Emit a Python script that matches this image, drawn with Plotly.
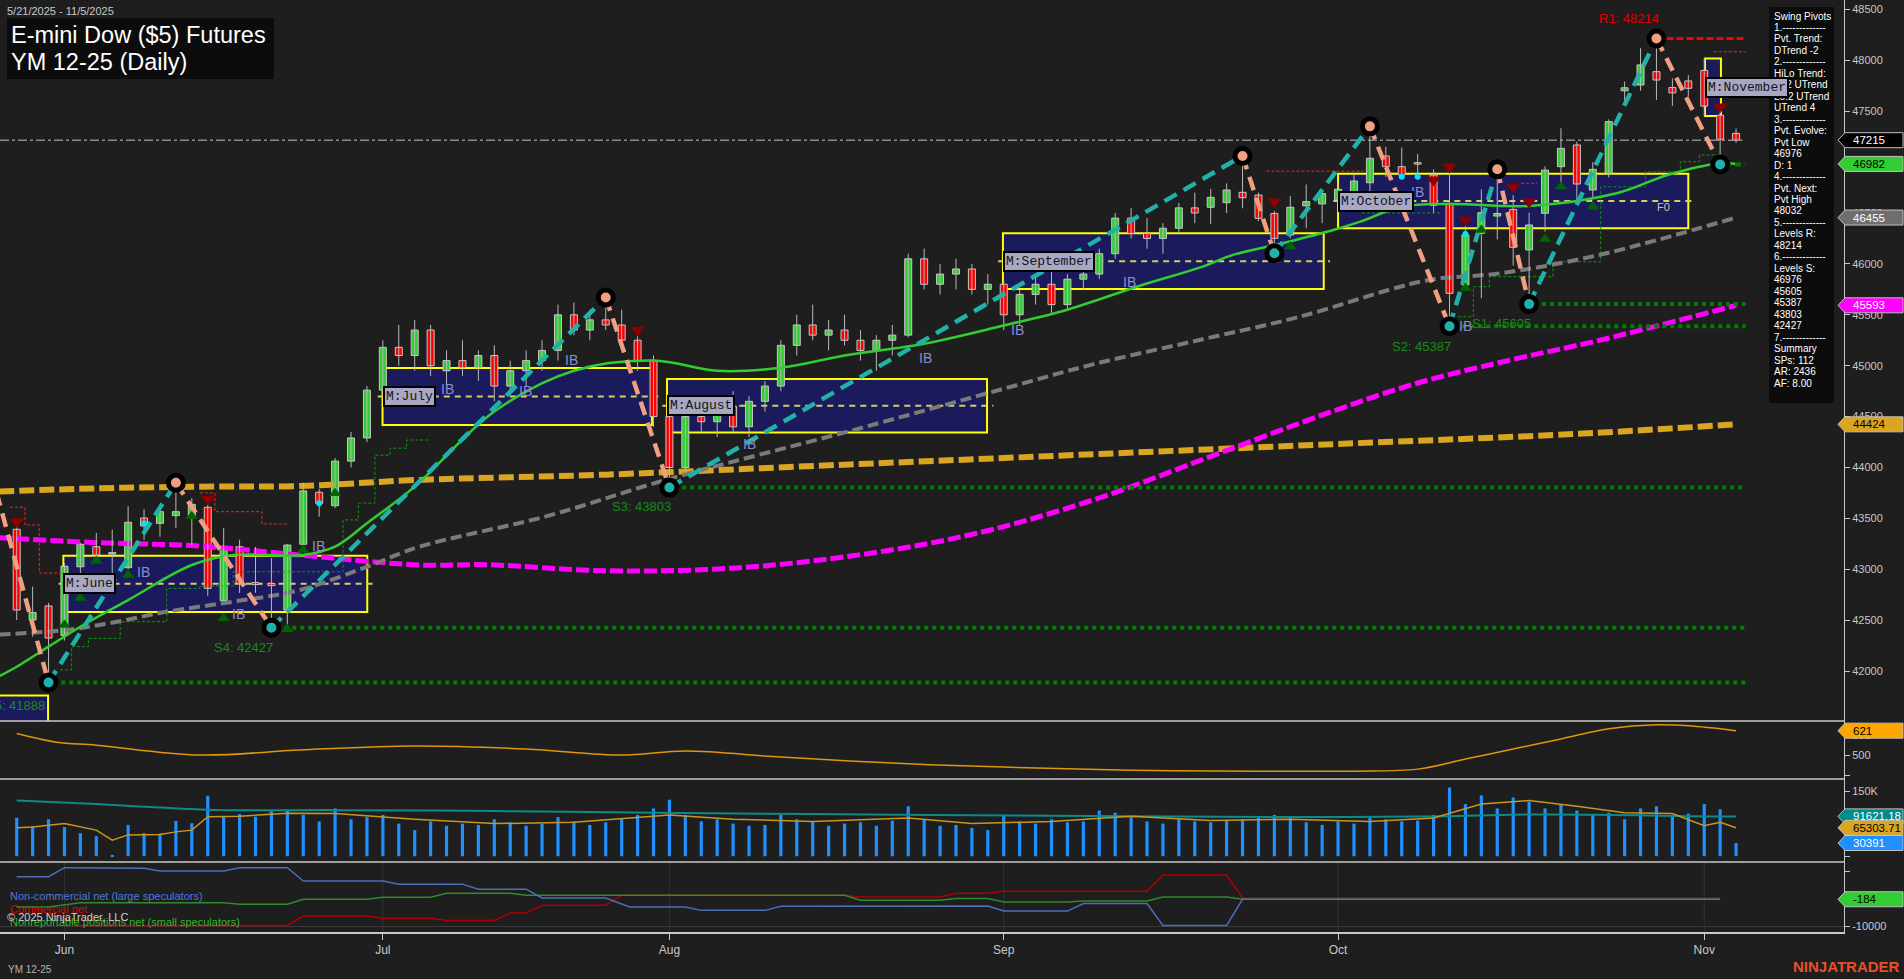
import plotly.graph_objects as go

# ---------------- DATA ----------------
bar_index = list(range(109))
opens = [43393, 42502, 42640, 42350, 43025, 43222, 43150, 43016, 43504, 43452,
         43527, 43515, 43609, 42692, 43222, 42870, 42860, 42600, 43246, 43757,
         43625, 44063, 44290, 44760, 45180, 45100, 45350, 44950, 45050, 44980,
         45100, 44800, 44950, 45050, 45150, 45500, 45350, 45450, 45400, 45250,
         45050, 44500, 44000, 44500, 44450, 44600, 44400, 44650, 44800, 45200,
         45400, 45300, 45350, 45250, 45150, 45250, 45300, 46050, 45800, 45900,
         45950, 45750, 45800, 45500, 45700, 45800, 45600, 45850, 45900, 46100,
         46450, 46300, 46250, 46350, 46550, 46556, 46601, 46703, 46676, 46495,
         46284, 46570, 46589, 46627, 46709, 46797, 47060, 46955, 46990, 46873,
         46594, 45793, 46301, 46470, 46535, 46137, 46497, 46955, 47168, 46726,
         46890, 47700, 47757, 47888, 47732, 47797, 47900, 47460, 47282]
highs = [43420, 42830, 42670, 43060, 43260, 43357, 43390, 43620, 43590, 43590,
         43850, 43700, 43640, 43405, 43290, 43220, 43110, 43250, 43850, 43790,
         44093, 44350, 44800, 45250, 45400, 45450, 45400, 45150, 45250, 45150,
         45200, 45050, 45150, 45250, 45600, 45620, 45550, 45670, 45550, 45350,
         45100, 44600, 44550, 44700, 44650, 44750, 44700, 44850, 45250, 45500,
         45600, 45450, 45500, 45350, 45300, 45400, 46100, 46150, 46000, 46050,
         46000, 45900, 45850, 45750, 45900, 45950, 45900, 46000, 46150, 46500,
         46550, 46450, 46400, 46600, 46700, 46736, 46790, 47060, 46700, 46520,
         46666, 46780, 46700, 46800, 46880, 47351, 47150, 47143, 47079, 46929,
         46920, 46383, 46733, 46929, 46676, 46503, 46958, 47332, 47200, 47000,
         47420, 47790, 48118, 48214, 47823, 47855, 48020, 47500, 47330]
lows = [42502, 42338, 41888, 42300, 42770, 43100, 42900, 43000, 43290, 43320,
        43405, 43240, 42740, 42690, 42767, 42770, 42427, 42440, 43200, 43517,
        43600, 44000, 44250, 44700, 45000, 44950, 44900, 44800, 44900, 44850,
        44650, 44700, 44800, 44950, 45050, 45300, 45250, 45350, 45150, 44950,
        44400, 43803, 43950, 44350, 44300, 44350, 44300, 44550, 44750, 45100,
        45250, 45150, 45200, 45050, 44950, 45100, 45280, 45750, 45700, 45750,
        45700, 45600, 45350, 45400, 45600, 45500, 45550, 45750, 45850, 46050,
        46250, 46150, 46100, 46300, 46400, 46392, 46500, 46546, 46420, 46104,
        46250, 46350, 46400, 46500, 46550, 46700, 46855, 46850, 46856, 46503,
        45387, 45750, 45662, 46240, 45983, 45605, 46317, 46791, 46628, 46650,
        46850, 47610, 47700, 47610, 47551, 47643, 47450, 46976, 47190]
closes = [42600, 42575, 42325, 43030, 43245, 43140, 43160, 43462, 43425, 43566,
          43566, 43638, 42813, 43206, 42862, 42850, 42840, 43238, 43770, 43648,
          44063, 44290, 44760, 45180, 45100, 45350, 45000, 45050, 44980, 45100,
          44800, 44950, 45050, 45150, 45500, 45350, 45450, 45400, 45250, 45050,
          44500, 44000, 44500, 44450, 44600, 44400, 44650, 44800, 45200, 45400,
          45300, 45350, 45250, 45150, 45250, 45300, 46050, 45800, 45900, 45950,
          45750, 45800, 45500, 45700, 45800, 45600, 45850, 45900, 46100, 46450,
          46300, 46250, 46350, 46550, 46500, 46654, 46726, 46650, 46448, 46251,
          46556, 46612, 46690, 46733, 46814, 47037, 46955, 46873, 46980, 46575,
          45711, 46284, 46503, 46495, 46163, 46382, 46921, 47135, 46785, 46929,
          47397, 47730, 47954, 47806, 47680, 47725, 47550, 47224, 47215]
volume = [88600, 69000, 85000, 67000, 53000, 46000, 3000, 72000, 53000, 52000,
          81000, 76000, 139000, 92000, 97000, 91000, 106000, 106000, 95000, 80000,
          110000, 85000, 90000, 95000, 75000, 60000, 80000, 70000, 75000, 72000,
          85000, 78000, 70000, 75000, 90000, 80000, 72000, 78000, 88000, 95000,
          110000, 130000, 95000, 80000, 85000, 75000, 70000, 72000, 95000, 85000,
          80000, 70000, 75000, 78000, 70000, 82000, 115000, 85000, 70000, 72000,
          65000, 60000, 95000, 80000, 75000, 85000, 78000, 80000, 105000, 100000,
          90000, 80000, 75000, 85000, 80000, 78000, 82000, 85000, 88000, 95000,
          90000, 78000, 72000, 80000, 75000, 88000, 85000, 80000, 82000, 95000,
          158000, 120000, 140000, 110000, 135000, 125000, 110000, 120000, 105000, 95000,
          100000, 85000, 110000, 115000, 95000, 98000, 120000, 108000, 30391]

month_labels = ["Jun", "Jul", "Aug", "Sep", "Oct", "Nov"]
month_first_bar = [3, 23, 41, 62, 83, 106]
price_ticks = [42000, 42500, 43000, 43500, 44000, 44500, 45000, 45500,
               46000, 46500, 47000, 47500, 48000, 48500]

# moving averages (bar position, value)
ma_fast_x = [-1.1, 0, 2, 4, 7, 11, 13.6, 18, 20, 22, 25, 30, 35, 40, 44, 48, 52, 57,
             62, 66, 70.6, 74.4, 76.4, 79.5, 82.7, 84.4, 87, 90, 95, 100.5, 103.7, 107, 108]
ma_fast_y = [41950, 42043, 42240, 42436, 42698, 43042, 43140, 43140, 43222, 43452,
             43812, 44550, 44950, 45050, 44950, 44980, 45100, 45216, 45395, 45550,
             45788, 45968, 46088, 46203, 46333, 46415, 46562, 46588, 46569, 46693,
             46873, 46988, 46982]
ma_mid_x = [-1.1, 3.1, 6.3, 9.4, 13.6, 17.8, 22, 25.3, 33.3, 40.8, 52.3, 62, 67.6,
            74.3, 80.6, 86.9, 89, 93.2, 99.4, 108]
ma_mid_y = [42360, 42404, 42485, 42583, 42682, 42797, 43025, 43222, 43522, 43880,
            44357, 44774, 45013, 45253, 45481, 45776, 45849, 45908, 46088, 46455]
ma_slow_x = [-1.1, 5.2, 11.5, 17.8, 25.3, 29.5, 37.1, 44.7, 52.3, 60, 67.6, 75.2,
             82.8, 88, 93.8, 99.5, 108]
ma_slow_y = [43310, 43261, 43229, 43140, 43042, 43045, 42985, 43009, 43128, 43343,
             43680, 44120, 44560, 44830, 45055, 45252, 45593]
ma_long_x = [-1.1, 5.2, 11.5, 17.8, 25.1, 37, 52.3, 67.6, 82.8, 98, 108]
ma_long_y = [43765, 43796, 43812, 43818, 43877, 43930, 44030, 44130, 44230, 44330, 44424]

# trailing stop steps (bar position, value); None separates segments
trail_up_x = [2.72, 3.45, 4.5, 6.5, 9.42, 11.5, 13.6, 20.5, 21.46, 22.5, 23.45, 24.5, 26, None,
              84.5, 89.4, None,
              90.55, 91.5, 92.5, 96.5, 99.5, 102.3, 104.5, 105.7, 107]
trail_up_y = [42013, 42240, 42322, 42485, 42813, 42836, 42976, 43485, 43650, 44121, 44190, 44270, 44270, None,
              46500, 46500, None,
              45481, 45776, 45874, 46021, 46757, 46905, 47004, 47070, 47070]
trail_dn_x = [-0.42, 0.52, 1.42, 2.82, None, 11.5, 12.45, 15.4, 16.96, None,
              78.5, 84.6, None, 94.5, 95.5, None, 106.6, 108.6]
trail_dn_y = [43610, 43435, 42963, 42963, None, 43750, 43566, 43446, 43446, None,
              46911, 46911, None, 46792, 46792, None, 48084, 48084]

# swing pivots
pivot_x = [-2, 2, 10, 16, 37, 41, 77, 79, 85, 90, 93, 95, 103, 107]
pivot_y = [44174, 41888, 43850, 42427, 45670, 43803, 47060, 46104, 47351, 45387,
           46929, 45605, 48214, 46976]
support_names = ["S5", "S4", "S3", "S2", "S1"]
support_vals = [41888, 42427, 43803, 45387, 45605]
support_from = [2, 16, 41, 90, 95]
resist_val, resist_from = 48214, 103
last_pivot_low, last_pivot_bar = 46976, 107
last_price = 47215

# monthly IB boxes: (label, x0, x1, low, high)
ib_names = ["M:June", "M:July", "M:August", "M:September", "M:October", "M:November"]
ib_x0 = [2.93, 22.98, 40.85, 61.95, 83.0, 106.05]
ib_x1 = [22.02, 39.9, 60.95, 82.1, 105.0, 107.05]
ib_low = [42580, 44417, 44345, 45753, 46349, 47452]
ib_high = [43134, 44977, 44870, 46301, 46886, 48017]

# second pane line (bar, value)
p2_x = [0, 2.5, 5, 11.5, 17.8, 25, 32, 38, 42, 48, 55, 62, 70, 78, 84, 88, 91, 94, 97,
        100, 103, 105, 108]
p2_y = [607, 564, 549, 500, 525, 545, 530, 500, 520, 490, 460, 440, 425, 420, 420,
        430, 480, 530, 580, 630, 650, 645, 621]
# volume averages
vol_fast_x = [0, 1, 3, 5, 6, 7, 9, 10, 11, 12, 14, 16, 17, 20, 25, 30, 35, 41, 45, 50,
              56, 60, 65, 70, 75, 80, 85, 89, 92, 95, 98, 101, 104, 106, 107, 108]
vol_fast_y = [65600, 67000, 75000, 60000, 37000, 49000, 50000, 56000, 60000, 91000,
              92000, 97000, 99000, 98000, 85000, 75000, 78000, 95000, 85000, 80000,
              88000, 75000, 80000, 92000, 82000, 85000, 80000, 88000, 120000, 128000,
              115000, 100000, 98000, 70000, 78000, 65304]
vol_slow_x = [0, 5, 9, 13, 20, 30, 40, 50, 60, 70, 80, 90, 95, 100, 105, 108]
vol_slow_y = [128000, 120000, 112000, 106000, 106000, 104000, 100000, 97000, 94000,
              92000, 90000, 92000, 96000, 95000, 92000, 91621]
# COT net positions (bar, value)
cot_large_x = [0, 2, 3, 8, 9, 13, 14, 17, 18, 23, 24, 28, 29, 32, 33, 37, 38.5, 42,
               43, 47, 48, 61, 62, 66, 67, 71, 72, 76, 77, 107]
cot_large_y = [7925, 7925, 11200, 11000, 10000, 10000, 11200, 11200, 6361, 6361,
               5270, 5270, 3450, 3450, 290, 290, -2984, -2984, -4184, -4184, -2730,
               -2620, -4440, -4440, -1750, -1750, -9640, -9640, -184, -184]
cot_comm_x = [0, 1, 4, 17, 18, 22, 23, 26, 27, 30, 31, 32, 33, 37, 38, 52, 53, 58, 59,
              61, 62, 71, 72, 76, 77, 107]
cot_comm_y = [-2984, -2984, -9640, -9640, -6257, -6257, -6984, -6984, -7820, -7820,
              -5165, -5165, -2366, -2366, 1270, 1270, 650, 650, 2000, 2000, 2730,
              2730, 8540, 8540, 180, 180]
cot_small_x = [0, 2, 4, 13, 14, 17, 18, 22, 23, 26, 27, 31, 32, 52, 53, 58, 59, 61,
               62, 66, 67, 71, 72, 76, 77, 107]
cot_small_y = [-2984, -2984, -1440, -1440, -2000, -2000, -184, -184, 543, 543, 2000,
               2000, 1270, 1270, -548, -548, 70, 70, -1166, -1166, -800, -800, 652,
               652, -184, -184]

# signal markers
tri_down_x = [0, 12, 39, 79, 89, 90, 91, 94, 95, 107]
tri_down_y = [43470, 43690, 45350, 46610, 46824, 46955, 46430, 46758, 46610, 47544]
tri_up_x = [3, 4, 5, 7, 11, 13, 16, 17, 18, 20, 80, 91, 92, 96, 97, 99]
tri_up_y = [42453, 42718, 43081, 42944, 43520, 42520, 42417, 42410, 43190, 43748,
            46170, 45763, 46333, 46244, 46759, 46560]
dot_x = [8, 19, 87, 88, 91]
dot_y = [43452, 43648, 46857, 46857, 46294]

info_lines = ["Swing Pivots", "1.-------------", "Pvt. Trend:", "DTrend -2",
              "2.-------------", "HiLo Trend:", "Hi:2 UTrend", "Lo:2 UTrend",
              "UTrend 4", "3.-------------", "Pvt. Evolve:", "Pvt Low", "46976",
              "D: 1", "4.-------------", "Pvt. Next:", "Pvt High", "48032",
              "5.-------------", "Levels R:", "48214", "6.-------------",
              "Levels S:", "46976", "45605", "45387", "43803", "42427",
              "7.-------------", "Summary", "SPs: 112", "AR: 2436", "AF: 8.00"]

# ---------------- LAYOUT GEOMETRY ----------------
PW, PH = 1844.0, 932.0
P1, P2, P3, P4 = (0, 721), (721, 779), (779, 862), (862, 932)
R1, R2, R3, R4 = [41510, 48592], [381, 669], [-13300, 177600], [-11982, 13243]
XR = [-1.049, 114.78]
BG = "#1e1e1e"
FONT = "Liberation Sans, Arial, sans-serif"


def dom(p):
    return [1 - p[1] / PH, 1 - p[0] / PH]


def xp(px):
    return px / PW


def yp(py):
    return 1 - py / PH


def vpx(v, rng, pane):
    return pane[0] + (rng[1] - v) / (rng[1] - rng[0]) * (pane[1] - pane[0])


fig = go.Figure()
shapes = []
ann = []
ib_ann = []

# IB boxes (below traces)
for name, x0, x1, lo, hi in zip(ib_names, ib_x0, ib_x1, ib_low, ib_high):
    shapes.append(dict(type="rect", xref="x", yref="y", x0=x0, x1=x1, y0=lo, y1=hi,
                       fillcolor="#1a1a5c", line=dict(color="#ffff00", width=2), layer="below"))
    mid = (lo + hi) / 2
    shapes.append(dict(type="line", xref="x", yref="y", x0=x0 - 0.3, x1=x1 + 0.4, y0=mid, y1=mid,
                       line=dict(color="#d4d060", width=2, dash="6px,5px"), layer="below"))
    ib_ann.append(dict(x=x0, y=mid, xref="x", yref="y", text=name, showarrow=False,
                       xanchor="left", yanchor="middle",
                       font=dict(family="Liberation Mono, Courier New, monospace", size=13, color="#151515"),
                       bgcolor="#a8a8c4", bordercolor="#000000", borderwidth=2, borderpad=1))
# May box remnant at bottom-left
shapes.append(dict(type="rect", xref="x", yref="y", x0=-3, x1=1.97, y0=41000, y1=41760,
                   fillcolor="#1a1a5c", line=dict(color="#ffff00", width=2), layer="below"))

# last price dash-dot line
fig.add_trace(go.Scatter(x=[XR[0], 108.4], y=[last_price, last_price], mode="lines",
                         line=dict(color="#8c8c8c", width=1.5, dash="dashdot"), hoverinfo="skip"))

# trailing stop steps
fig.add_trace(go.Scatter(x=trail_up_x, y=trail_up_y, mode="lines", line_shape="hv",
                         connectgaps=False, line=dict(color="#0a9a0a", width=1, dash="3px,2px")))
fig.add_trace(go.Scatter(x=trail_dn_x, y=trail_dn_y, mode="lines", line_shape="hv",
                         connectgaps=False, line=dict(color="#ff2020", width=1, dash="3px,2px")))

# moving averages
fig.add_trace(go.Scatter(x=ma_long_x, y=ma_long_y, mode="lines", line_shape="spline",
                         line=dict(color="#daa520", width=6, dash="15px,5px")))
fig.add_trace(go.Scatter(x=ma_slow_x, y=ma_slow_y, mode="lines", line_shape="spline",
                         line=dict(color="#ff00ff", width=5, dash="13px,4px")))
fig.add_trace(go.Scatter(x=ma_mid_x, y=ma_mid_y, mode="lines", line_shape="spline",
                         line=dict(color="#7a7a7a", width=4, dash="11px,5px")))

# candles: wicks
wx, wy = [], []
for i, h, l in zip(bar_index, highs, lows):
    wx += [i, i, None]
    wy += [l, h, None]
fig.add_trace(go.Scatter(x=wx, y=wy, mode="lines", line=dict(color="#b8b8b8", width=1),
                         hoverinfo="skip"))
bases = [min(o, c) for o, c in zip(opens, closes)]
sizes = [max(abs(c - o), 14) for o, c in zip(opens, closes)]
cols = ["#32cd32" if c >= o else "#ff0000" for o, c in zip(opens, closes)]
fig.add_trace(go.Bar(x=bar_index, y=sizes, base=bases, width=0.44,
                     marker=dict(color=cols, line=dict(color="#c8c8c8", width=1))))

fig.add_trace(go.Scatter(x=ma_fast_x, y=ma_fast_y, mode="lines", line_shape="spline",
                         line=dict(color="#32cd32", width=2.5)))

# support / resistance dotted lines
for v, b in zip(support_vals, support_from):
    fig.add_trace(go.Scatter(x=[b + 0.3, 108.6], y=[v, v], mode="lines",
                             line=dict(color="#008000", width=4, dash="4px,4px")))
fig.add_trace(go.Scatter(x=[last_pivot_bar + 0.3, 108.6], y=[last_pivot_low, last_pivot_low],
                         mode="lines", line=dict(color="#008000", width=4, dash="6px,4px")))
fig.add_trace(go.Scatter(x=[resist_from, 108.6], y=[resist_val, resist_val], mode="lines",
                         line=dict(color="#ff0000", width=3, dash="7px,3px")))

# zigzag swings
dn_x, dn_y, up_x, up_y = [], [], [], []
for k in range(len(pivot_x) - 1):
    seg_x = [pivot_x[k], pivot_x[k + 1], None]
    seg_y = [pivot_y[k], pivot_y[k + 1], None]
    if pivot_y[k + 1] < pivot_y[k]:
        dn_x += seg_x; dn_y += seg_y
    else:
        up_x += seg_x; up_y += seg_y
fig.add_trace(go.Scatter(x=dn_x, y=dn_y, mode="lines",
                         line=dict(color="#f0a080", width=4.5, dash="14px,8px")))
fig.add_trace(go.Scatter(x=up_x, y=up_y, mode="lines",
                         line=dict(color="#20b2aa", width=4.5, dash="14px,8px")))

# markers
fig.add_trace(go.Scatter(x=tri_down_x, y=tri_down_y, mode="markers",
                         marker=dict(symbol="triangle-down", size=13, color="#8b0000")))
fig.add_trace(go.Scatter(x=tri_up_x, y=tri_up_y, mode="markers",
                         marker=dict(symbol="triangle-up", size=11, color="#006400")))
fig.add_trace(go.Scatter(x=dot_x, y=dot_y, mode="markers",
                         marker=dict(size=6, color="#00e5ff")))
hi_x = [x for k, x in enumerate(pivot_x) if k > 0 and pivot_y[k] > pivot_y[k - 1]]
hi_y = [y for k, y in enumerate(pivot_y) if k > 0 and y > pivot_y[k - 1]]
lo_x = [x for k, x in enumerate(pivot_x) if k > 0 and pivot_y[k] < pivot_y[k - 1]]
lo_y = [y for k, y in enumerate(pivot_y) if k > 0 and y < pivot_y[k - 1]]
fig.add_trace(go.Scatter(x=hi_x, y=hi_y, mode="markers",
                         marker=dict(size=15, color="#f0a080", line=dict(color="#000000", width=5))))
fig.add_trace(go.Scatter(x=lo_x, y=lo_y, mode="markers",
                         marker=dict(size=15, color="#20b2aa", line=dict(color="#000000", width=5))))

# pane 2
fig.add_trace(go.Scatter(x=p2_x, y=p2_y, yaxis="y2", mode="lines", line_shape="spline",
                         line=dict(color="#e0960a", width=1.5)))
# pane 3 volume
fig.add_trace(go.Bar(x=bar_index, y=volume, yaxis="y3", width=0.2,
                     marker=dict(color="#1e90ff", line=dict(width=0))))
fig.add_trace(go.Scatter(x=vol_slow_x, y=vol_slow_y, yaxis="y3", mode="lines", line_shape="spline",
                         line=dict(color="#0d8a8a", width=2)))
fig.add_trace(go.Scatter(x=vol_fast_x, y=vol_fast_y, yaxis="y3", mode="lines",
                         line=dict(color="#c8961e", width=1.5)))
# pane 4 COT
fig.add_trace(go.Scatter(x=cot_comm_x, y=cot_comm_y, yaxis="y4", mode="lines",
                         line=dict(color="#b00000", width=1.5)))
fig.add_trace(go.Scatter(x=cot_small_x, y=cot_small_y, yaxis="y4", mode="lines",
                         line=dict(color="#2e8b2e", width=1.5)))
fig.add_trace(go.Scatter(x=cot_large_x, y=cot_large_y, yaxis="y4", mode="lines",
                         line=dict(color="#4a6fb8", width=1.5)))

# pane separators and grid
for py in (P1[1], P2[1], P3[1]):
    shapes.append(dict(type="line", xref="paper", yref="paper", x0=0, x1=1, y0=yp(py), y1=yp(py),
                       line=dict(color="#c8c8c8", width=1.5)))
for mb in month_first_bar:
    shapes.append(dict(type="line", xref="x", yref="y4", x0=mb, x1=mb, y0=R4[0], y1=R4[1],
                       line=dict(color="#333333", width=1), layer="below"))
shapes.append(dict(type="line", xref="paper", yref="y4", x0=0, x1=1, y0=-10000, y1=-10000,
                   line=dict(color="#3a3a3a", width=1), layer="below"))

# value flags on right axis
flags = [(last_price, R1, P1, "#000000", "#ffffff", "47215"),
         (46982, R1, P1, "#32cd32", "#000000", "46982"),
         (46455, R1, P1, "#6e6e6e", "#ffffff", "46455"),
         (45593, R1, P1, "#ff00ff", "#ffffff", "45593"),
         (44424, R1, P1, "#daa520", "#000000", "44424"),
         (621, R2, P2, "#ffa500", "#000000", "621"),
         (91621.18, R3, P3, "#008b8b", "#ffffff", "91621.18"),
         (65303.71, R3, P3, "#daa520", "#000000", "65303.71"),
         (30391, R3, P3, "#1e90ff", "#ffffff", "30391"),
         (-184, R4, P4, "#32cd32", "#000000", "-184")]
for v, rng, pane, bgc, fgc, txt in flags:
    cy = vpx(v, rng, pane)
    shapes.append(dict(type="path", xref="paper", yref="paper",
                       path=f"M {xp(1838)},{yp(cy)} L {xp(1845)},{yp(cy - 7.5)} L {xp(1903)},{yp(cy - 7.5)} "
                            f"L {xp(1903)},{yp(cy + 7.5)} L {xp(1845)},{yp(cy + 7.5)} Z",
                       fillcolor=bgc, line=dict(color="#c0c0c0", width=1)))
    ann.append(dict(x=xp(1851), y=yp(cy), xref="paper", yref="paper", text=txt, showarrow=False,
                    xanchor="left", yanchor="middle", font=dict(family=FONT, size=11.5, color=fgc)))

# title block
shapes.append(dict(type="rect", xref="paper", yref="paper", x0=xp(7), x1=xp(274), y0=yp(79), y1=yp(18),
                   fillcolor="#0c0c0c", line=dict(width=0)))
ann.append(dict(x=xp(5), y=yp(11), xref="paper", yref="paper", text="5/21/2025 - 11/5/2025",
                showarrow=False, xanchor="left", yanchor="middle",
                font=dict(family=FONT, size=11, color="#c8c8c8")))
ann.append(dict(x=xp(9), y=yp(35), xref="paper", yref="paper", text="E-mini Dow ($5) Futures",
                showarrow=False, xanchor="left", yanchor="middle",
                font=dict(family=FONT, size=23.5, color="#ffffff")))
ann.append(dict(x=xp(9), y=yp(62), xref="paper", yref="paper", text="YM 12-25 (Daily)",
                showarrow=False, xanchor="left", yanchor="middle",
                font=dict(family=FONT, size=23.5, color="#ffffff")))

# info panel
shapes.append(dict(type="rect", xref="paper", yref="paper", x0=xp(1769), x1=xp(1834), y0=yp(403), y1=yp(7),
                   fillcolor="#0c0c0c", line=dict(width=0)))
for k, line in enumerate(info_lines):
    ann.append(dict(x=xp(1772), y=yp(16 + k * 11.47), xref="paper", yref="paper", text=line,
                    showarrow=False, xanchor="left", yanchor="middle",
                    font=dict(family=FONT, size=10, color="#ffffff")))

# level labels
lab_pos = [("S5: 41888", 47, 705, "right"), ("S4: 42427", 212, 647, "left"),
           ("S3: 43803", 610, 506, "left"), ("S2: 45387", 1390, 346, "left"),
           ("S1: 45605", 1470, 324, "left")]
for txt, px_, py_, anc in lab_pos:
    ann.append(dict(x=xp(px_), y=yp(py_), xref="paper", yref="paper", text=txt, showarrow=False,
                    xanchor=anc, yanchor="middle", font=dict(family=FONT, size=13, color="#1a8a1a")))
ann.append(dict(x=xp(1597), y=yp(18), xref="paper", yref="paper", text="R1: 48214", showarrow=False,
                xanchor="left", yanchor="middle", font=dict(family=FONT, size=13, color="#e00000")))
ann.append(dict(x=xp(1655), y=yp(207), xref="paper", yref="paper", text="F0", showarrow=False,
                xanchor="left", yanchor="middle", font=dict(family=FONT, size=11, color="#c8c8a0")))
for px_, py_ in [(143, 572), (238, 614), (318, 546), (447, 389), (525, 391), (571, 360),
                 (749, 444), (925, 358), (1018, 330), (1129, 282), (1417, 192), (1465, 326)]:
    ann.append(dict(x=xp(px_), y=yp(py_), xref="paper", yref="paper", text="IB", showarrow=False,
                    xanchor="center", yanchor="middle", font=dict(family=FONT, size=14, color="#8c8cd0")))

# COT legend & copyright
ann += [
    dict(x=xp(8), y=yp(896), xref="paper", yref="paper", text="Non-commercial net (large speculators)",
         showarrow=False, xanchor="left", yanchor="middle", font=dict(family=FONT, size=11, color="#5078dc")),
    dict(x=xp(8), y=yp(909), xref="paper", yref="paper", text="Commercial net",
         showarrow=False, xanchor="left", yanchor="middle", font=dict(family=FONT, size=11, color="#e00000")),
    dict(x=xp(8), y=yp(922), xref="paper", yref="paper", text="Nonreportable positions net (small speculators)",
         showarrow=False, xanchor="left", yanchor="middle", font=dict(family=FONT, size=11, color="#2eb82e")),
    dict(x=xp(5), y=yp(917), xref="paper", yref="paper", text="© 2025 NinjaTrader, LLC",
         showarrow=False, xanchor="left", yanchor="middle", font=dict(family=FONT, size=11, color="#d0d0d0")),
    dict(x=xp(6), y=yp(969), xref="paper", yref="paper", text="YM 12-25",
         showarrow=False, xanchor="left", yanchor="middle", font=dict(family=FONT, size=10, color="#b4b4b4")),
    dict(x=xp(1902), y=yp(966), xref="paper", yref="paper", text="<b>NINJATRADER</b>",
         showarrow=False, xanchor="right", yanchor="middle", font=dict(family=FONT, size=15, color="#e8502a")),
]
# month IB labels drawn last so they sit on top of the info panel text
ann += ib_ann

axis_common = dict(side="right", showgrid=False, zeroline=False, showline=True, linecolor="#c8c8c8",
                   linewidth=1, ticks="outside", ticklen=5, tickcolor="#c8c8c8",
                   tickfont=dict(family=FONT, size=11, color="#c8c8c8"), anchor="x", fixedrange=True)

fig.update_layout(
    width=1904, height=979,
    margin=dict(l=0, r=60, t=0, b=47),
    paper_bgcolor=BG, plot_bgcolor=BG,
    showlegend=False, barmode="overlay", hovermode=False,
    xaxis=dict(range=XR, domain=[0, 1], anchor="y4", showgrid=False, zeroline=False,
               showline=True, linecolor="#c8c8c8", linewidth=1.5, ticks="outside", ticklen=6,
               tickcolor="#c8c8c8", tickvals=month_first_bar, ticktext=month_labels,
               tickfont=dict(family=FONT, size=12, color="#c8c8c8")),
    yaxis=dict(domain=dom(P1), range=R1, tickvals=price_ticks,
               ticktext=[str(t) for t in price_ticks], **axis_common),
    yaxis2=dict(domain=dom(P2), range=R2, tickvals=[400, 500, 600], ticktext=["", "500", "600"], **axis_common),
    yaxis3=dict(domain=dom(P3), range=R3, tickvals=[0, 150000], ticktext=["", "150K"], **axis_common),
    yaxis4=dict(domain=dom(P4), range=R4, tickvals=[10000, -10000], ticktext=["", "-10000"], **axis_common),
    shapes=shapes, annotations=ann,
)

fig.write_html("out.html", config={"displayModeBar": False},
               post_script="document.body.style.margin='0';document.body.style.overflow='hidden';"
                           "document.body.style.background='#1e1e1e';")
